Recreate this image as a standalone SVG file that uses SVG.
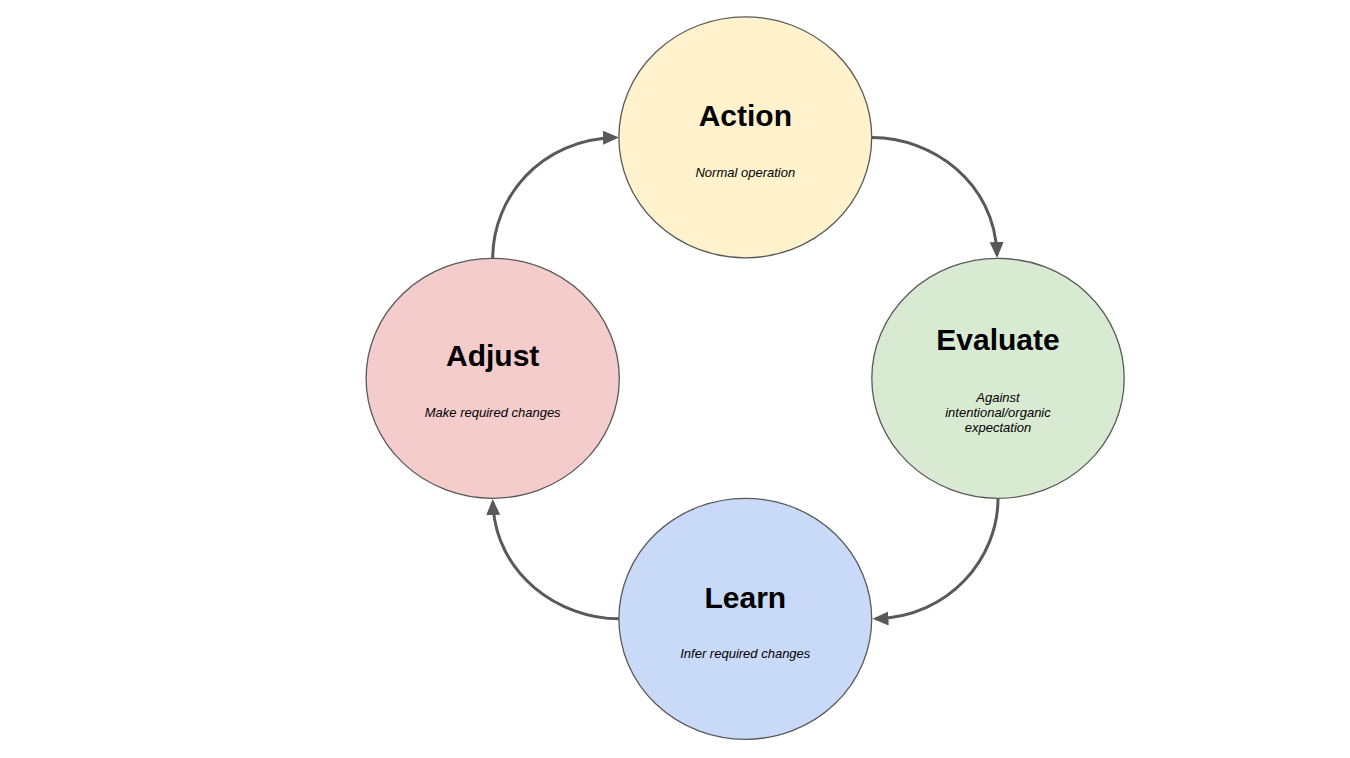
<svg xmlns="http://www.w3.org/2000/svg" width="1350" height="758" viewBox="0 0 1350 758">
<style>
.node{stroke:#595959;stroke-width:1.3}
.title{font-family:"Liberation Sans",Arial,sans-serif;font-size:30px;font-weight:bold;fill:#000;text-anchor:middle}
.sub{font-family:"Liberation Sans",Arial,sans-serif;font-size:13px;font-style:italic;fill:#000;text-anchor:middle}
.conn{fill:none;stroke:#595959;stroke-width:3;marker-end:url(#arr)}
</style>
<defs>
<marker id="arr" markerUnits="userSpaceOnUse" markerWidth="18" markerHeight="16" refX="13" refY="7" orient="auto">
<path d="M0,0 L16,7 L0,14 z" fill="#595959"/>
</marker>
</defs>
<rect width="1350" height="758" fill="#fff"/>
<g id="connectors">
<path class="conn" d="M872,137.5 C932,137.5 995,182 997,255"/>
<path class="conn" d="M998,498.5 C998,558 950,617 875.5,618.8"/>
<path class="conn" d="M619,618.8 C560,618.8 495,575 492.8,502"/>
<path class="conn" d="M492.7,258.3 C492.7,198 540,139 616,137.5"/>
</g>
<g id="action">
<ellipse class="node" cx="745.3" cy="137.3" rx="126.4" ry="120.5" fill="#fff2cc"/>
<text class="title" x="745.3" y="125.5">Action</text>
<text class="sub" x="745.3" y="176.7">Normal operation</text>
</g>
<g id="evaluate">
<ellipse class="node" cx="998" cy="378.3" rx="126.2" ry="120" fill="#d9ead3"/>
<text class="title" x="998" y="350">Evaluate</text>
<text class="sub" x="998" y="401.7">Against</text>
<text class="sub" x="998" y="417">intentional/organic</text>
<text class="sub" x="998" y="432.3">expectation</text>
</g>
<g id="learn">
<ellipse class="node" cx="745.3" cy="618.8" rx="126.4" ry="120.5" fill="#c9daf8"/>
<text class="title" x="745.3" y="607.5">Learn</text>
<text class="sub" x="745.3" y="657.7">Infer required changes</text>
</g>
<g id="adjust">
<ellipse class="node" cx="492.7" cy="378.3" rx="126.6" ry="120" fill="#f4cccc"/>
<text class="title" x="492.7" y="365.7">Adjust</text>
<text class="sub" x="492.7" y="416.7">Make required changes</text>
</g>
</svg>
